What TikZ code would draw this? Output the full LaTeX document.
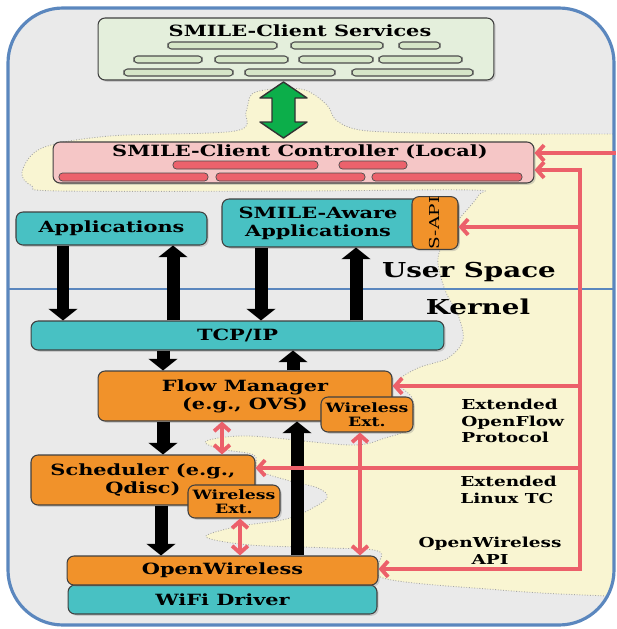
\documentclass[tikz,border=0pt]{standalone}
\usepackage{fontspec}
\setmainfont{DejaVu Serif}[FakeStretch=1.35]
\usetikzlibrary{arrows.meta, shadows}

\definecolor{frameblue}{RGB}{91,135,190}
\definecolor{bggray}{RGB}{234,234,234}
\definecolor{blobyellow}{RGB}{249,245,210}
\definecolor{svcgreen}{RGB}{228,239,220}
\definecolor{svcbar}{RGB}{214,230,200}
\definecolor{ctrlpink}{RGB}{245,198,198}
\definecolor{barred}{RGB}{236,98,108}
\definecolor{appteal}{RGB}{72,193,195}
\definecolor{kernorange}{RGB}{241,146,42}
\definecolor{linkred}{RGB}{236,96,106}
\definecolor{fatgreen}{RGB}{12,174,74}

\tikzset{
  box/.style={draw=black!75, line width=0.6pt, rounded corners=4pt, inner sep=0pt,
    drop shadow={opacity=0.3, shadow xshift=1pt, shadow yshift=-1pt}},
  tealbox/.style={box, fill=appteal, font=\fontsize{8.8}{10.2}\selectfont\bfseries},
  orangebox/.style={box, fill=kernorange, align=center, font=\fontsize{8.8}{10.2}\selectfont\bfseries},
  extbox/.style={orangebox, minimum width=1.84cm, font=\fontsize{7.3}{8.2}\selectfont\bfseries},
  title/.style={align=center, inner sep=0pt, font=\fontsize{8.8}{10.2}\selectfont\bfseries},
  side/.style={inner sep=0pt, font=\fontsize{7.8}{9.6}\selectfont\bfseries},
  layer/.style={inner sep=0pt, font=\fontsize{11.7}{13}\selectfont\bfseries},
  fatblack/.style={line width=0.26cm, -{Triangle[length=0pt 0.9, width=0pt 2.2]}},
  redline/.style={draw=linkred, line width=2.2pt},
  redlink/.style={redline, -{Straight Barb[length=4pt, width=9pt]}},
  redboth/.style={redline, {Straight Barb[length=4pt, width=9pt]}-{Straight Barb[length=4pt, width=9pt]}},
}

\begin{document}
\begin{tikzpicture}[x=0.02cm, y=-0.02cm]
    \useasboundingbox (0,0) rectangle (616,629);
    % frame and background
    \fill[bggray, rounded corners=1.1cm] (8,8) rectangle (614,625);
    \begin{scope}
        \clip[rounded corners=1.1cm] (8,8) rectangle (614,625);
        \filldraw[fill=blobyellow, draw=gray!70, densely dotted, line width=0.5pt]
            (700,134) -- plot[smooth, tension=0.55] coordinates {
            (560,134) (520,134) (420,133) (360,130) (336,120) (327,105) (305,90)
            (275,89) (252,94) (246,112) (235,131) (110,136) (42,148) (22,172)
            (32,186) (60,191) (300,191) (470,190) (478,196) (452,228) (438,258)
            (445,290) (458,315) (463,340) (448,358) (418,368) (398,382) (413,400)
            (408,428) (385,438) (350,445) (250,436) (206,441) (220,449) (254,455)
            (258,470) (290,481) (318,488) (327,498) (305,512) (282,520) (235,527)
            (206,537) (250,545) (330,548) (380,552) (383,578) (500,590) (560,594)}
            -- (700,600) -- cycle;
        \draw[frameblue, line width=1.3pt] (8,289) -- (616,289);
    \end{scope}
    \draw[frameblue, line width=1.8pt, rounded corners=1.1cm] (8,8) rectangle (614,625);

    % client services
    \node[box, fill=svcgreen, minimum width=7.92cm, minimum height=1.24cm] (svc) at (296,49) {};
    \node[title] (svctitle) at (300,31) {SMILE-Client Services};
    \foreach \a/\b/\y in {168/277/42, 291/383/42, 399/440/42,
                          134/202/56, 215/288/56, 299/373/56, 379/462/56,
                          124/233/69, 245/335/69, 352/473/69}
        \draw[fill=svcbar, draw=black!70, line width=0.6pt, rounded corners=2pt] (\a,\y) rectangle (\b,\y+7);

    % two-way channel services <-> controller
    \coordinate (duplex) at (283.5,110);
    \draw[fill=fatgreen, draw=black!80, line width=0.8pt, line join=round, shift={(duplex)}]
        (0,-28) -- (23.5,-12) -- (11.5,-12) -- (11.5,12) -- (23.5,12) -- (0,28)
        -- (-23.5,12) -- (-11.5,12) -- (-11.5,-12) -- (-23.5,-12) -- cycle;

    % controller
    \node[box, fill=ctrlpink, minimum width=9.62cm, minimum height=0.82cm] (ctrl) at (293.5,162.5) {};
    \node[title] (ctrltitle) at (300,152) {SMILE-Client Controller (Local)};
    \foreach \a/\b/\y in {173/318/161, 339/407/161, 59/208/173, 216/365/173, 372/522/173}
        \draw[fill=barred, draw=black!70, rounded corners=2pt] (\a,\y) rectangle (\b,\y+8);

    % user space
    \node[tealbox, minimum width=3.82cm, minimum height=0.66cm] (apps) at (111.5,228.5) {Applications};
    \node[tealbox, minimum width=4.72cm, minimum height=0.96cm] (saware) at (340,223) {};
    \node[title] (sawaretxt) at (318,223) {SMILE-Aware\\Applications};
    \node[box, fill=kernorange, rotate=90, minimum width=0.96cm, minimum height=0.92cm,
          font=\fontsize{7.8}{9}\selectfont] (sapi) at (435,223) {S-API};
    \node[layer] (user) at (469,272) {User Space};
    \node[layer] (kernel) at (478,307) {Kernel};

    % kernel
    \node[tealbox, minimum width=8.26cm, minimum height=0.58cm] (tcp) at (237.5,335.5) {TCP/IP};
    \node[orangebox, minimum width=5.88cm, minimum height=1.0cm] (flow) at (245,396) {Flow Manager\\(e.g., OVS)};
    \node[extbox, minimum height=0.70cm] (fwx) at (367,414.5) {Wireless\\Ext.};
    \node[orangebox, minimum width=4.48cm, minimum height=1.0cm] (sched) at (143,480) {Scheduler (e.g.,\\Qdisc)};
    \node[extbox, minimum height=0.66cm] (swx) at (234,501.5) {Wireless\\Ext.};
    \node[tealbox, minimum width=6.18cm, minimum height=0.58cm] (wifi) at (222.5,599.5) {WiFi Driver};
    \node[orangebox, minimum width=6.22cm, minimum height=0.58cm] (ow) at (222.5,570.5) {OpenWireless};

    % data path
    \draw[fatblack] (63,0 |- apps.south) -- (63,0 |- tcp.north);
    \draw[fatblack] (173,0 |- tcp.north) -- (173,0 |- apps.south);
    \draw[fatblack] (261,0 |- saware.south) -- (261,0 |- tcp.north);
    \draw[fatblack] (356,0 |- tcp.north) -- (356,0 |- saware.south);
    \draw[fatblack] (163,0 |- tcp.south) -- (163,0 |- flow.north);
    \draw[fatblack] (293,0 |- flow.north) -- (293,0 |- tcp.south);
    \draw[fatblack] (163,0 |- flow.south) -- (163,0 |- sched.north);
    \draw[fatblack] (161,0 |- sched.south) -- (161,0 |- ow.north);
    \draw[fatblack] (297,0 |- ow.north) -- (297,0 |- flow.south);

    % control links
    \draw[redboth] (222,0 |- flow.south) -- (222,0 |- sched.north);
    \draw[redboth] (240,0 |- swx.south) -- (240,0 |- ow.north);
    \draw[redboth] (360,0 |- fwx.south) -- (360,0 |- ow.north);
    \coordinate (edge) at (616,153);
    \coordinate (trtop) at (580,170);
    \coordinate (trbot) at (580,569);
    \draw[redline, line cap=rect] (trbot) -- (trtop);
    \draw[redlink] (edge) -- (edge -| ctrl.east);
    \draw[redlink] (trtop) -- (trtop -| ctrl.east);
    \draw[redlink] (580,227) -- (580,227 -| saware.east);
    \draw[redlink] (580,386) -- (580,386 -| flow.east);
    \draw[redlink] (580,468) -- (580,468 -| sched.east);
    \draw[redlink] (trbot) -- (trbot -| ow.east);

    \node[side, align=left, anchor=west] (ofp) at (461,421) {Extended\\OpenFlow\\Protocol};
    \node[side, align=left, anchor=west] (ltc) at (460,490) {Extended\\Linux TC};
    \node[side, align=center] (owapi) at (490,551) {OpenWireless\\API};
\end{tikzpicture}
\end{document}
